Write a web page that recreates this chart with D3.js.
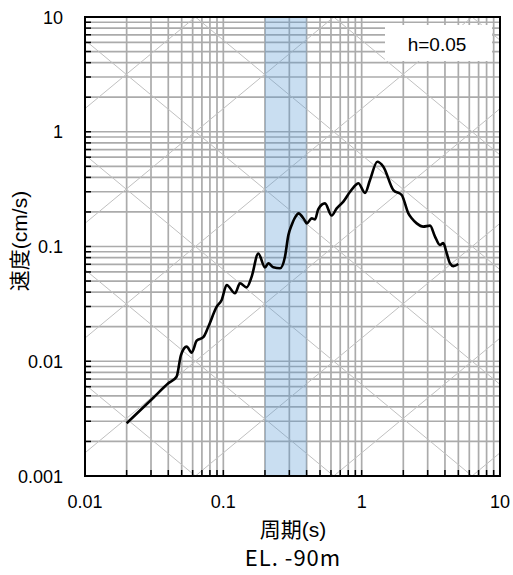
<!DOCTYPE html>
<html><head><meta charset="utf-8">
<script src="https://cdn.jsdelivr.net/npm/d3@7"></script>
<style>body{margin:0;background:#fff}svg{display:block}</style>
</head><body>
<svg id="c" width="513" height="575"></svg>
<script>
const periods = [0.02,0.0312,0.04,0.0459,0.0494,0.0543,0.059,0.0642,0.0716,0.0779,0.0896,0.0973,0.1057,0.1214,0.132,0.1475,0.1603,0.179,0.2,0.2115,0.2298,0.257,0.279,0.295,0.312,0.339,0.3487,0.389,0.401,0.4355,0.46,0.486,0.543,0.607,0.66,0.737,0.824,0.921,0.946,1.057,1.149,1.297,1.435,1.695,1.947,2.175,2.30,2.50,2.79,3.12,3.39,3.68,3.89,4.12,4.35,4.6,5.0];
const velocities = [0.00288,0.00481,0.00643,0.00733,0.0113,0.0134,0.0119,0.0151,0.0162,0.0200,0.0299,0.0342,0.0462,0.0391,0.0478,0.0440,0.0546,0.087,0.0656,0.0714,0.0659,0.0646,0.0815,0.125,0.154,0.188,0.1945,0.168,0.159,0.176,0.172,0.212,0.2377,0.186,0.215,0.246,0.30,0.35,0.356,0.293,0.38,0.548,0.496,0.31,0.281,0.1945,0.176,0.159,0.149,0.152,0.122,0.103,0.107,0.0873,0.0714,0.0675,0.0704];
const xTicks = [0.01,0.1,1,10];
const xTickLabels = ["0.01","0.1","1","10"];
const yTicks = [0.001,0.01,0.1,1,10];
const yTickLabels = ["0.001","0.01","0.1","1","10"];
const accelLines = [0.001,0.01,0.1,1,10,100,1000,10000,100000];
const dispLines = [0.000001,0.00001,0.0001,0.001,0.01,0.1,1,10,100];
const band = [0.2,0.4];
const legendText = "h=0.05";
const xTitle = "周期(s)";
const yTitle = "速度(cm/s)";
const subTitle = "EL. -90m";

const L=85,R=500,T=17,B=476;
const x = d3.scaleLog().domain([0.01,10]).range([L,R]);
const y = d3.scaleLog().domain([0.001,10]).range([B,T]);
const svg = d3.select("#c");
svg.append("defs").append("clipPath").attr("id","clip").append("rect")
  .attr("x",L).attr("y",T).attr("width",R-L).attr("height",B-T);
const g = svg.append("g").attr("clip-path","url(#clip)");

function minors(d0,d1){const a=[];for(let e=Math.log10(d0);e<Math.log10(d1);e++){for(let m=1;m<10;m++)a.push(m*Math.pow(10,e));}a.push(d1);return a;}
const xm = minors(0.01,10), ym = minors(0.001,10);

g.selectAll(".vg").data(xm).enter().append("line")
  .attr("x1",d=>x(d)).attr("x2",d=>x(d)).attr("y1",T).attr("y2",B)
  .attr("stroke","#ababab").attr("stroke-width",1.7);
g.selectAll(".hg").data(ym).enter().append("line")
  .attr("y1",d=>y(d)).attr("y2",d=>y(d)).attr("x1",L).attr("x2",R)
  .attr("stroke","#ababab").attr("stroke-width",1.7);

const tp = [0.001,100];
g.selectAll(".al").data(accelLines).enter().append("line")
  .attr("x1",x(tp[0])).attr("x2",x(tp[1]))
  .attr("y1",a=>y(a*tp[0]/(2*Math.PI))).attr("y2",a=>y(a*tp[1]/(2*Math.PI)))
  .attr("stroke","#c0c0c0").attr("stroke-width",1);
g.selectAll(".dl").data(dispLines).enter().append("line")
  .attr("x1",x(tp[0])).attr("x2",x(tp[1]))
  .attr("y1",dd=>y(2*Math.PI*dd/tp[0])).attr("y2",dd=>y(2*Math.PI*dd/tp[1]))
  .attr("stroke","#c0c0c0").attr("stroke-width",1);

g.append("rect").attr("x",x(band[0])).attr("width",x(band[1])-x(band[0]))
  .attr("y",T).attr("height",B-T).attr("fill","#5b9bd5").attr("fill-opacity",0.33);

// legend box
svg.append("rect").attr("x",385).attr("y",25).attr("width",107).attr("height",36).attr("fill","#fff");
svg.append("text").attr("x",437).attr("y",51).attr("text-anchor","middle")
  .attr("font-family","Liberation Sans, Arial, sans-serif").attr("font-size",19).text(legendText);

const line = d3.line().x((d,i)=>x(periods[i])).y((d,i)=>y(velocities[i])).curve(d3.curveMonotoneX);
g.append("path").attr("d",line(periods)).attr("fill","none").attr("stroke","#000").attr("stroke-width",2.6).attr("stroke-linejoin","round");

// ticks (inward)
const tk = svg.append("g").attr("stroke","#000").attr("stroke-width",1.5);
tk.selectAll(".xt").data(xm).enter().append("line")
  .attr("x1",d=>x(d)).attr("x2",d=>x(d)).attr("y1",B).attr("y2",B-6);
tk.selectAll(".yt").data(ym).enter().append("line")
  .attr("y1",d=>y(d)).attr("y2",d=>y(d)).attr("x1",L).attr("x2",L+6);

svg.append("rect").attr("x",L).attr("y",T).attr("width",R-L).attr("height",B-T)
  .attr("fill","none").attr("stroke","#000").attr("stroke-width",2);

const font = "Liberation Sans, Arial, Noto Sans CJK JP, sans-serif";
svg.selectAll(".xl").data(xTicks).enter().append("text")
  .attr("x",d=>x(d)).attr("y",508).attr("text-anchor","middle")
  .attr("font-family",font).attr("font-size",18).text((d,i)=>xTickLabels[i]);
svg.selectAll(".yl").data(yTicks).enter().append("text")
  .attr("x",63).attr("y",d=>y(d)+6.5).attr("text-anchor","end")
  .attr("font-family",font).attr("font-size",18).text((d,i)=>yTickLabels[i]);

svg.append("text").attr("x",293).attr("y",537).attr("text-anchor","middle")
  .attr("font-family",font).attr("font-size",21).text(xTitle);
svg.append("text").attr("x",293).attr("y",566).attr("text-anchor","middle")
  .attr("font-family","Noto Sans CJK JP, sans-serif").attr("font-size",22).attr("letter-spacing",1).text(subTitle);
svg.append("text").attr("transform","translate(27,241) rotate(-90)").attr("text-anchor","middle")
  .attr("font-family",font).attr("font-size",21).text(yTitle);
</script>
</body></html>
